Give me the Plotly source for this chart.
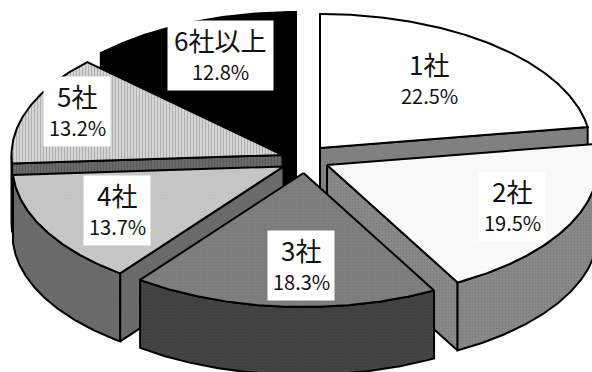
import numpy as np
import plotly.graph_objects as go

# Share of each company-count bracket, clockwise from twelve o'clock
categories = ["1社", "2社", "3社", "4社", "5社", "6社以上"]
shares = [22.5, 19.5, 18.3, 13.7, 13.2, 12.8]

# Projection of the tilted pie
RX, RY, DEPTH = 271, 134, 68
CENTER_X, CENTER_Y = 303, 159
explode_dx = [17, 24, 0.5, -19.5, -20.5, -7]
explode_dy = [-11, 6, 14, 7.5, -4, -13]

top_styles = [
    dict(shape="", bgcolor="#ffffff", fgcolor="#ffffff"),
    dict(shape=".", bgcolor="#ffffff", fgcolor="#c4c4c4", size=2, solidity=0.3),
    dict(shape=".", bgcolor="#808080", fgcolor="#707070", size=3, solidity=0.4),
    dict(shape="x", bgcolor="#cccccc", fgcolor="#a0a0a0", size=2, solidity=0.4),
    dict(shape="|", bgcolor="#e0e0e0", fgcolor="#808080", size=3, solidity=0.5),
    dict(shape="", bgcolor="#000000", fgcolor="#000000"),
]
side_styles = [
    dict(shape="", bgcolor="#808080", fgcolor="#808080"),
    dict(shape=".", bgcolor="#8a8a8a", fgcolor="#707070", size=3, solidity=0.4),
    dict(shape=".", bgcolor="#404040", fgcolor="#4a4a4a", size=3, solidity=0.4),
    dict(shape="x", bgcolor="#6e6e6e", fgcolor="#555555", size=2, solidity=0.4),
    dict(shape="|", bgcolor="#707070", fgcolor="#404040", size=3, solidity=0.5),
    dict(shape="", bgcolor="#000000", fgcolor="#000000"),
]

# Label placement: box centre and box size
label_x = [429, 512, 301, 117, 77, 220]
label_y = [79, 206, 265, 210, 111, 55]
box_w = [66, 66, 66, 66, 66, 105]
box_h = [69, 69, 69, 69, 69, 69]
NAME_OFFSET, PCT_OFFSET = -16, 16

fig = go.Figure()


def rim(cx, cy, a0, a1):
    """Points on the projected rim between two clockwise angles in degrees."""
    t = np.radians(np.linspace(a0, a1, max(int(abs(a1 - a0)) * 2, 2)))
    return cx + RX * np.sin(t), cy - RY * np.cos(t)


def poly(xs, ys, style):
    fig.add_trace(go.Scatter(
        x=np.append(xs, xs[0]), y=np.append(ys, ys[0]), mode="lines",
        fill="toself", fillcolor=style["bgcolor"],
        fillpattern=style if style["shape"] else None,
        line=dict(color="#000000", width=2, shape="linear"),
        hoverinfo="skip", showlegend=False,
    ))


edges = np.concatenate([[0], np.cumsum(shares)]) * 3.6
# Back slices first so that nearer ones overlap them
for i in [5, 0, 4, 1, 3, 2]:
    a0, a1 = edges[i], edges[i + 1]
    cx, cy = CENTER_X + explode_dx[i], CENTER_Y + explode_dy[i]

    # Radial faces that turn towards the viewer
    for a, visible in ((a0, np.sin(np.radians(a0)) < -1e-6),
                       (a1, np.sin(np.radians(a1)) > 1e-6)):
        if visible:
            ex = cx + RX * np.sin(np.radians(a))
            ey = cy - RY * np.cos(np.radians(a))
            poly(np.array([cx, ex, ex, cx]),
                 np.array([cy, ey, ey + DEPTH, cy + DEPTH]), side_styles[i])

    # Outer wall, only on the front half of the rim
    lo, hi = max(a0, 90), min(a1, 270)
    if lo < hi:
        wx, wy = rim(cx, cy, lo, hi)
        poly(np.concatenate([wx, wx[::-1]]),
             np.concatenate([wy, wy[::-1] + DEPTH]), side_styles[i])

    # Top face
    tx, ty = rim(cx, cy, a0, a1)
    poly(np.concatenate([[cx], tx]), np.concatenate([[cy], ty]), top_styles[i])

# White label boxes, with the name and the percentage set as separate lines
for name, share, x, y, w, h in zip(categories, shares, label_x, label_y, box_w, box_h):
    fig.add_annotation(x=x, y=y, xref="x", yref="y", showarrow=False, text=" ",
                       width=w, height=h, bgcolor="#ffffff", borderpad=0)
    fig.add_annotation(x=x, y=y + NAME_OFFSET, xref="x", yref="y", showarrow=False,
                       text=name,
                       font=dict(family="Noto Sans CJK JP", size=26, color="#111111"))
    fig.add_annotation(x=x, y=y + PCT_OFFSET, xref="x", yref="y", showarrow=False,
                       text=f"{share:.1f}%",
                       font=dict(family="Noto Sans CJK JP", size=20, color="#111111"))

fig.update_layout(
    width=592, height=372, margin=dict(l=0, r=0, t=0, b=0),
    paper_bgcolor="#ffffff", plot_bgcolor="#ffffff",
    xaxis=dict(range=[0, 592], visible=False, fixedrange=True),
    yaxis=dict(range=[372, 0], visible=False, fixedrange=True),
)
fig.write_html("out.html", config=dict(displayModeBar=False))
